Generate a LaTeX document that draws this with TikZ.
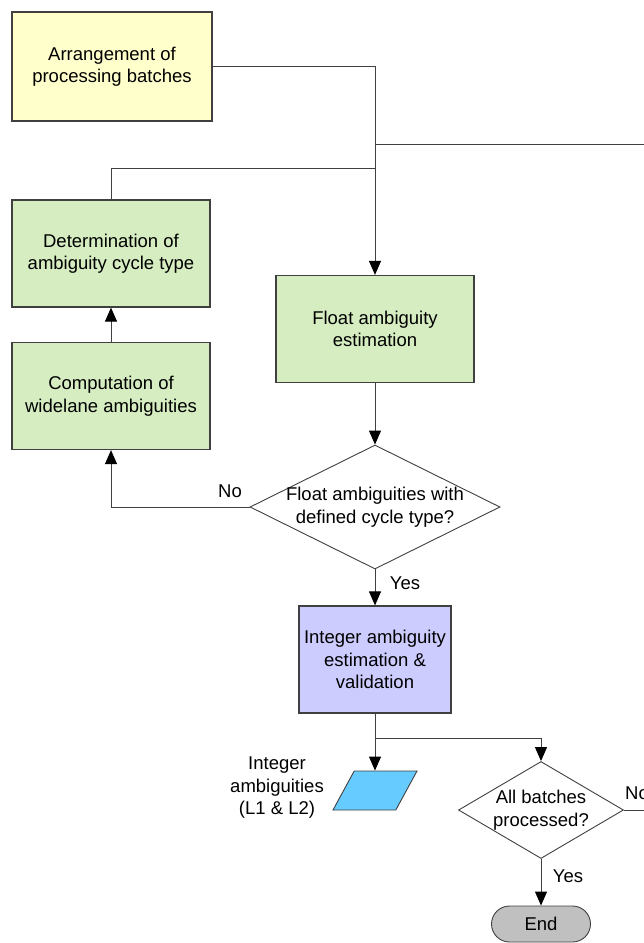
\documentclass[tikz,border=0pt]{standalone}
\usepackage{fontspec}
\setmainfont{Liberation Sans}
\usepackage{tikz}
\usetikzlibrary{arrows.meta,shapes.geometric,shapes.misc}

\definecolor{boxyellow}{HTML}{FFFFCC}
\definecolor{boxgreen}{HTML}{D5EDC0}
\definecolor{boxlilac}{HTML}{CCCCFF}
\definecolor{databl}{HTML}{66CCFF}
\definecolor{endgray}{HTML}{C0C0C0}
\definecolor{edge}{HTML}{404040}

\tikzset{
  every node/.style={font=\fontsize{18.5}{22.5}\selectfont, text=black},
  procbox/.style={draw=edge, line width=1.2pt, rectangle, align=center,
                  minimum width=198pt, minimum height=107pt, inner sep=0pt},
  decbox/.style={draw=edge, line width=0.9pt, diamond, fill=white, align=center, inner sep=0pt},
  databox/.style={draw=edge, line width=0.9pt, fill=databl, trapezium,
                  trapezium left angle=63, trapezium right angle=117,
                  trapezium stretches=true, minimum width=84pt, minimum height=39pt},
  termbox/.style={draw=edge, line width=0.9pt, fill=endgray, rounded rectangle,
                  minimum width=99pt, minimum height=36pt, inner sep=0pt},
  link/.style={draw=edge, line width=1pt},
  flow/.style={link, -{Triangle[width=12pt,length=14pt,color=black]}},
  lbl/.style={inner sep=0pt, align=center}
}

\begin{document}
\begin{tikzpicture}[x=1pt, y=-1pt]
        \useasboundingbox (0,0) rectangle (644,943);
        \clip (0,0) rectangle (644,943);

        % boxes
        \node [procbox, fill=boxyellow, minimum width=200pt, minimum height=109pt]
              (arrange) at (112,66.5)  {Arrangement of\\processing batches};
        \node [procbox, fill=boxgreen]  (determ)   at (111,253.5) {Determination of\\ambiguity cycle type};
        \node [procbox, fill=boxgreen]  (widelane) at (111,396)   {Computation of\\widelane ambiguities};
        \node [procbox, fill=boxgreen]  (floatest) at (375,329)   {Float ambiguity\\estimation};
        \node [decbox, aspect=2, inner sep=-5pt, minimum width=250pt, minimum height=124pt]
              (cycdec) at (375,507)  {Float ambiguities with\\defined cycle type?};
        \node [procbox, fill=boxlilac, minimum width=152pt]
              (intest) at (375,659.5) {Integer ambiguity\\estimation \&\\validation};
        \node [databox] (intamb) at (375,790.5) {};
        \node [decbox, aspect=1.7, minimum width=165pt, minimum height=97pt]
              (batchdec) at (541,810) {All batches\\processed?};
        \node [termbox] (finish) at (541,924) {End};

        % labels
        \node [lbl] (nolbl)   at (230,491) {No};
        \node [lbl] (yeslbl)  at (405,583) {Yes};
        \node [lbl] (amblbl)  at (277,788) {Integer\\ambiguities\\(L1 \& L2)};
        \node [lbl, anchor=west] (nolbltwo) at (625,793) {No};
        \node [lbl] (yeslbltwo) at (568,876) {Yes};

        % junctions
        \coordinate (loopin)  at (650,144);
        \coordinate (cycjoin) at (375,168);
        \coordinate (split)   at (375,738);
        \coordinate (loopout) at (650,810);

        % connectors
        \draw [flow] (arrange.east) -| (floatest.north);
        \draw [link] (floatest.north |- loopin) -- (loopin);
        \draw [link] (determ.north) |- (cycjoin);
        \draw [flow] (widelane.north) -- (determ.south);
        \draw [flow] (floatest.south) -- (cycdec.north);
        \draw [flow] (cycdec.west) -| (widelane.south);
        \draw [flow] (cycdec.south) -- (intest.north);
        \draw [flow] (intest.south) -- (intamb.north);
        \draw [flow] (split) -| (batchdec.north);
        \draw [link] (batchdec.east) -- (loopout);
        \draw [flow] (batchdec.south) -- (finish.north);
\end{tikzpicture}
\end{document}
